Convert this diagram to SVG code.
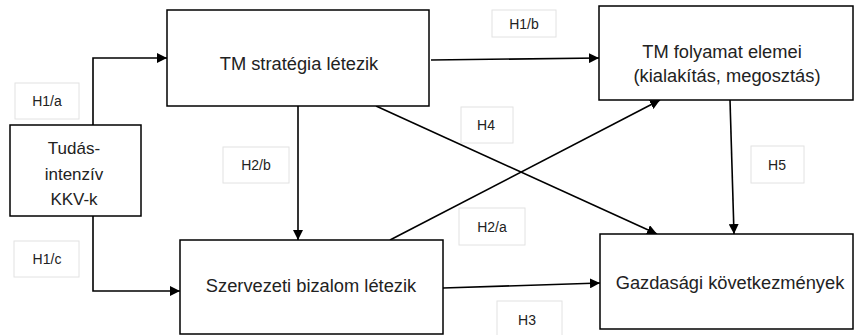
<svg xmlns="http://www.w3.org/2000/svg" width="856" height="335" viewBox="0 0 856 335">
<style>
.node rect{fill:#fff;stroke:#000;stroke-width:1.5}
.node text{font-family:"Liberation Sans",Arial,sans-serif;font-size:18.3px;fill:#222;text-anchor:middle}
#n-tudas text{font-size:17px}
.lbl rect{fill:#fff;stroke:#e2e2e2;stroke-width:1}
.lbl text{font-family:"Liberation Sans",Arial,sans-serif;font-size:14px;fill:#222;text-anchor:middle}
.conn path{fill:none;stroke:#000;stroke-width:1.6;marker-end:url(#ah)}
</style>
<defs>
<marker id="ah" viewBox="0 0 10 10" refX="10" refY="5" markerWidth="10" markerHeight="10" markerUnits="userSpaceOnUse" orient="auto">
<path d="M0,0 L10,5 L0,10 z" fill="#000"/>
</marker>
</defs>
<rect width="856" height="335" fill="#fff"/>
<g id="labels">
<g class="lbl" id="l-h1a"><rect x="15" y="83" width="64" height="36"/><text x="47" y="106">H1/a</text></g>
<g class="lbl" id="l-h1b"><rect x="492" y="10" width="64" height="27"/><text x="524" y="29">H1/b</text></g>
<g class="lbl" id="l-h4"><rect x="461" y="107" width="52" height="36"/><text x="486" y="130">H4</text></g>
<g class="lbl" id="l-h2b"><rect x="223" y="147" width="66" height="36"/><text x="256" y="170">H2/b</text></g>
<g class="lbl" id="l-h5"><rect x="751" y="146" width="53" height="37"/><text x="777" y="170">H5</text></g>
<g class="lbl" id="l-h1c"><rect x="14" y="241" width="65" height="36"/><text x="47" y="264">H1/c</text></g>
<g class="lbl" id="l-h2a"><rect x="459" y="208" width="66" height="37"/><text x="492" y="232">H2/a</text></g>
<g class="lbl" id="l-h3"><rect x="497" y="301" width="65" height="40"/><text x="527" y="325">H3</text></g>
</g>
<g class="conn" id="connectors">
<path d="M93,125 V58 H167"/>
<path d="M93,216 V291 H180"/>
<path d="M298,106 V240"/>
<path d="M431,60 L599,58"/>
<path d="M376,106 L657,234"/>
<path d="M390,240 L660,100"/>
<path d="M730,100 L734,234"/>
<path d="M443,288 L600,283"/>
</g>
<g class="node" id="n-strategia"><rect x="167" y="10" width="262" height="96"/><text x="299" y="70">TM stratégia létezik</text></g>
<g class="node" id="n-folyamat"><rect x="599" y="6" width="254" height="94"/><text x="722" y="58">TM folyamat elemei</text><text x="727" y="82">(kialakítás, megosztás)</text></g>
<g class="node" id="n-tudas"><rect x="10" y="125" width="131" height="91"/><text x="74" y="154">Tudás-</text><text x="74" y="180">intenzív</text><text x="74" y="205">KKV-k</text></g>
<g class="node" id="n-bizalom"><rect x="180" y="240" width="263" height="94"/><text x="311" y="292">Szervezeti bizalom létezik</text></g>
<g class="node" id="n-gazdasagi"><rect x="600" y="234" width="253" height="95"/><text x="730" y="289">Gazdasági következmények</text></g>
</svg>
